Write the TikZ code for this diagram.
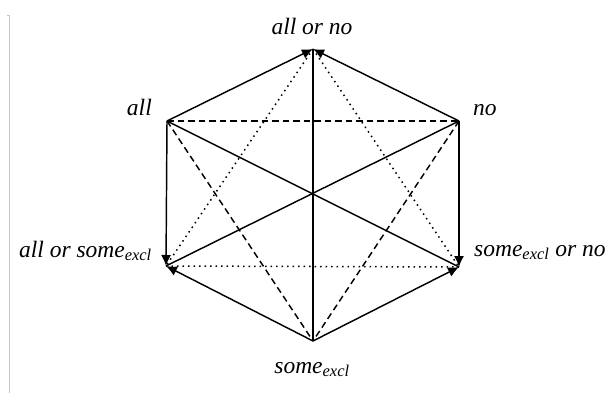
\documentclass[tikz,border=0pt]{standalone}
\usepackage{fontspec}
\setmainfont{Liberation Serif}
\usetikzlibrary{arrows.meta}
\begin{document}
\begin{tikzpicture}[x=1pt,y=-1pt,
  edge/.style={line width=1.45pt,black},
  arr/.style={edge,-{Latex[length=11pt,width=10pt]}},
  dsh/.style={edge,dash pattern=on 6.5pt off 4pt},
  dts/.style={edge,line width=1.5pt,dash pattern=on 1.5pt off 4pt},
  lbl/.style={font=\fontsize{23.5}{28}\selectfont\itshape,inner sep=0pt}]
\useasboundingbox (0,0) rectangle (611,396);
\draw[gray!45,line width=0.8pt] (7,15.5) -- (9.5,15.5) -- (9.5,393);
\coordinate (T) at (313,49);
\coordinate (UL) at (167,121);
\coordinate (UR) at (459,121);
\coordinate (LL) at (166,266);
\coordinate (LR) at (459,267);
\coordinate (B) at (313,341);
% labels
\node[lbl,anchor=base] (lT) at (312,35) {all or no};
\node[lbl,anchor=base east] (lUL) at (152,116) {all};
\node[lbl,anchor=base west] (lUR) at (473,115) {no};
\node[lbl,anchor=base east] (lLL) at (152,257) {all or some\textsubscript{excl}};
\node[lbl,anchor=base west] (lLR) at (474,256) {some\textsubscript{excl} or no};
\node[lbl,anchor=base] (lB) at (312,373) {some\textsubscript{excl}};
% dotted
\draw[dts] (T) -- (LL);
\draw[dts] (T) -- (LR);
\draw[dts] (LL) -- (LR);
% dashed
\draw[dsh] (UL) -- (UR);
\draw[dsh] (UL) -- (B);
\draw[dsh] (UR) -- (B);
% solid diagonals
\draw[edge] (UL) -- (LR);
\draw[edge] (UR) -- (LL);
\draw[edge] (T) -- (B);
% arrows
\draw[arr] (UL) -- (T);
\draw[arr] (UR) -- (T);
\draw[arr] (UL) -- (LL);
\draw[arr] (UR) -- (LR);
\draw[arr] (B) -- (LL);
\draw[arr] (B) -- (LR);
\end{tikzpicture}
\end{document}
